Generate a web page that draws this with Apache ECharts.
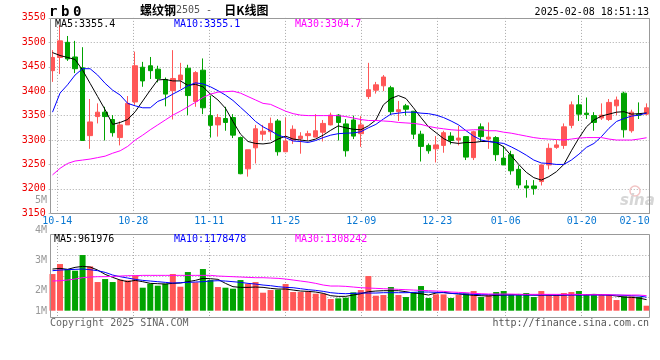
<!DOCTYPE html>
<html><head><meta charset="utf-8">
<script src="https://cdn.jsdelivr.net/npm/echarts/dist/echarts.min.js"></script>
<style>html,body{margin:0;padding:0;background:#fff}#c{width:660px;height:360px}</style>
</head><body><div id="c"></div>
<script>
// ---- data ----
const dates = ['10-11',
 '10-14','10-15','10-16','10-17','10-18','10-21','10-22','10-23','10-24','10-25',
 '10-28','10-29','10-30','10-31','11-01','11-04','11-05','11-06','11-07','11-08',
 '11-11','11-12','11-13','11-14','11-15','11-18','11-19','11-20','11-21','11-22',
 '11-25','11-26','11-27','11-28','11-29','12-02','12-03','12-04','12-05','12-06',
 '12-09','12-10','12-11','12-12','12-13','12-16','12-17','12-18','12-19','12-20',
 '12-23','12-24','12-25','12-26','12-27','12-30','12-31','01-02','01-03',
 '01-06','01-07','01-08','01-09','01-10','01-13','01-14','01-15','01-16','01-17',
 '01-20','01-21','01-22','01-23','01-24','01-27','02-05','02-06','02-07','02-10'];
const opens = [3442,3469,3500,3470,3448,3309,3348,3357,3342,3305,
 3331,3378,3449,3452,3445,3424,3401,3423,3447,3379,
 3443,3350,3331,3344,3346,3305,3241,3284,3312,3317,
 3339,3276,3300,3303,3309,3306,3316,3331,3351,3333,
 3341,3313,3389,3402,3411,3407,3358,3370,3359,3312,
 3289,3282,3289,3308,3300,3307,3264,3327,3302,3305,
 3263,3270,3240,3206,3206,3215,3249,3285,3289,3330,
 3372,3355,3350,3345,3342,3370,3396,3319,3353,3353];
const closes = [3469,3503,3466,3446,3299,3337,3357,3348,3315,3331,
 3375,3452,3421,3442,3426,3394,3426,3433,3391,3438,
 3366,3330,3346,3336,3310,3231,3280,3323,3318,3334,
 3276,3298,3322,3308,3313,3319,3334,3351,3336,3278,
 3308,3331,3403,3413,3429,3358,3362,3363,3312,3287,
 3278,3290,3315,3299,3304,3265,3317,3307,3306,3270,
 3249,3237,3208,3202,3201,3249,3283,3290,3327,3372,
 3353,3352,3336,3351,3377,3382,3321,3357,3351,3366];
const lows = [3419,3435,3462,3437,3299,3282,3334,3299,3307,3289,
 3331,3372,3409,3425,3418,3369,3342,3405,3351,3368,
 3353,3305,3307,3319,3304,3230,3225,3252,3299,3300,
 3268,3276,3292,3272,3300,3306,3297,3330,3299,3266,
 3302,3286,3384,3395,3400,3351,3339,3350,3302,3256,
 3272,3254,3274,3291,3289,3259,3259,3298,3282,3257,
 3249,3229,3201,3182,3188,3207,3240,3282,3282,3324,
 3339,3343,3319,3341,3339,3351,3305,3315,3343,3351];
const highs = [3484,3535,3513,3503,3490,3384,3375,3368,3351,3338,
 3390,3481,3460,3470,3452,3428,3484,3458,3454,3441,
 3467,3391,3353,3368,3353,3307,3280,3331,3331,3346,
 3343,3346,3330,3316,3319,3353,3341,3356,3353,3343,
 3350,3349,3458,3419,3433,3411,3380,3374,3359,3319,
 3293,3308,3319,3316,3329,3307,3319,3334,3336,3308,
 3288,3278,3248,3218,3218,3249,3293,3300,3334,3379,
 3392,3387,3357,3375,3384,3389,3399,3362,3377,3375];
const ma5 = [3479,3473,3469,3465,3443,3416,3389,3362,3332,3336,
 3342,3358,3380,3402,3423,3424,3421,3421,3412,3414,
 3409,3394,3382,3365,3338,3312,3297,3293,3292,3294,
 3302,3308,3302,3300,3298,3302,3310,3320,3329,3325,
 3322,3321,3329,3341,3372,3385,3391,3385,3366,3346,
 3327,3315,3303,3295,3293,3295,3295,3297,3297,3295,
 3286,3268,3250,3234,3223,3218,3225,3235,3250,3278,
 3304,3327,3341,3349,3353,3357,3358,3353,3354,3355.4];
const ma10 = [3357,3396,3413,3433,3446,3446,3433,3416,3402,3392,
 3375,3370,3366,3366,3379,3385,3394,3402,3411,3417,
 3415,3409,3401,3392,3381,3367,3353,3338,3327,3319,
 3310,3305,3298,3297,3295,3299,3305,3310,3313,3314,
 3314.5,3317,3325,3332,3343,3353,3355,3357,3357,3355,
 3354,3351,3346,3339,3331,3319,3308,3300,3297,3295,
 3293,3286,3278,3269,3259,3253,3252,3250,3250,3259,
 3271,3285,3293,3307,3324,3338,3344,3349,3351,3355.1];
const ma30 = [3228.6,3242,3252,3257,3259,3261,3264,3267,3273,3278,
 3287,3300,3310,3321,3331,3341,3351,3359,3368,3377,
 3387,3394,3398,3399,3400,3396,3389,3382,3375,3373,
 3366,3359,3354,3351,3350,3350,3350,3350,3350,3348,
 3345,3342,3340,3340,3339,3338,3336,3335,3334,3332,
 3328,3325,3323,3321,3320,3320,3321,3321,3319,3319,
 3316,3314,3311,3308,3305,3303,3302,3301,3300,3302,
 3304,3305,3305,3305,3302,3300,3300,3300,3302,3304.7];
const volumes = [3190000,4060000,3625000,3480000,4843000,3857000,2494000,2755000,2494000,2697000,
 2639000,3074000,2001000,2349000,2175000,2349000,3190000,2088000,3364000,2465000,
 3625000,2668000,2059000,2001000,1914000,2668000,2349000,2494000,1566000,1798000,
 1827000,2320000,1624000,1624000,1682000,1479000,1479000,1015000,1073000,1131000,
 1595000,1798000,3016000,1305000,1363000,2059000,1363000,1189000,1595000,2146000,
 1102000,1421000,1421000,1102000,1363000,1508000,1711000,1189000,1363000,1624000,
 1711000,1363000,1363000,1537000,1189000,1711000,1363000,1363000,1537000,1624000,
 1711000,1363000,1363000,1363000,1363000,928000,1247000,1247000,1189000,435000];
const volMa5 = [3625000,3683000,3596000,3770000,3857000,3799000,3538000,3161000,2900000,2668000,
 2523000,2639000,2523000,2378000,2349000,2320000,2378000,2407000,2523000,2639000,
 2813000,2784000,2726000,2378000,2088000,2030000,2030000,2059000,2030000,1943000,
 1885000,1885000,1798000,1711000,1682000,1624000,1508000,1305000,1247000,1247000,
 1363000,1479000,1653000,1711000,1740000,1740000,1740000,1653000,1537000,1479000,
 1363000,1537000,1595000,1508000,1450000,1392000,1334000,1305000,1276000,1334000,
 1363000,1392000,1421000,1392000,1363000,1363000,1363000,1334000,1363000,1392000,
 1392000,1392000,1421000,1392000,1363000,1276000,1189000,1160000,1102000,961976];
const volMa10 = [3480000,3538000,3567000,3596000,3625000,3567000,3480000,3335000,3103000,2958000,
 2842000,2726000,2639000,2581000,2523000,2465000,2407000,2436000,2465000,2494000,
 2523000,2581000,2610000,2581000,2523000,2465000,2378000,2320000,2233000,2175000,
 2088000,2030000,2001000,1914000,1827000,1769000,1682000,1566000,1508000,1479000,
 1508000,1537000,1537000,1537000,1566000,1566000,1566000,1566000,1595000,1624000,
 1624000,1595000,1566000,1508000,1479000,1450000,1421000,1392000,1392000,1392000,
 1363000,1363000,1363000,1363000,1363000,1363000,1363000,1363000,1363000,1363000,
 1363000,1363000,1363000,1363000,1363000,1363000,1334000,1305000,1276000,1178478];
const volMa30 = [2581000,2610000,2668000,2755000,2871000,2929000,2958000,2958000,2987000,3016000,
 3045000,3045000,3074000,3074000,3074000,3074000,3074000,3074000,3074000,3074000,
 3074000,3074000,3016000,2987000,2958000,2929000,2900000,2871000,2871000,2842000,
 2813000,2755000,2668000,2581000,2494000,2378000,2233000,2146000,2146000,2117000,
 2059000,2001000,1972000,1943000,1914000,1885000,1856000,1827000,1798000,1769000,
 1740000,1711000,1682000,1624000,1595000,1566000,1508000,1479000,1450000,1450000,
 1450000,1450000,1421000,1421000,1421000,1421000,1421000,1421000,1421000,1421000,
 1421000,1392000,1392000,1392000,1392000,1363000,1363000,1363000,1363000,1308242];
const tickDates = ['10-14','10-28','11-11','11-25','12-09','12-23','01-06','01-20','02-10'];
const volumeLabels = ['5M','4M','3M','2M','1M'];

// ---- styles ----
const RED = '#ff5757', GREEN = '#00a300';
const MONO = '"DejaVu Sans Mono", "Liberation Mono", monospace';
const DOT = {type: [1, 2], color: '#a8a8a8', width: 1};
const lastTick = tickDates[tickDates.length - 1];

const candles = dates.map((d, i) => [opens[i], closes[i], lows[i], highs[i]]);
const gridDates = dates.slice(1);

function line(name, data, color, xi, yi) {
  return {type: 'line', name, data, xAxisIndex: xi, yAxisIndex: yi, symbol: 'none',
    lineStyle: {color, width: 1}, itemStyle: {color}, z: 5, silent: true};
}

const chart = echarts.init(document.getElementById('c'), null, {renderer: 'canvas'});
const legendFont = '10px ' + MONO;
chart.setOption({
  animation: false,
  backgroundColor: '#ffffff',
  grid: [
    {left: 48.74, top: 17.9, width: 601.6, height: 195.4},
    {left: 57.3, top: 17.9, width: 592.8, height: 195.4},
    {left: 48.74, top: 234, width: 601.6, height: 83.7},
    {left: 57.3, top: 234, width: 592.8, height: 83.7}
  ],
  xAxis: [
    {type: 'category', gridIndex: 0, data: dates, boundaryGap: true, show: false},
    {type: 'category', gridIndex: 1, data: gridDates, boundaryGap: false,
      axisLine: {show: false}, axisTick: {show: false},
      axisLabel: {interval: (i, v) => tickDates.includes(v), color: '#0a78d2',
        fontFamily: MONO, fontSize: 10, margin: 3,
        formatter: v => v === lastTick ? '{e|' + v + '}' : v,
        rich: {e: {color: '#0a78d2', fontFamily: MONO, fontSize: 10, padding: [0, 31, 0, 0]}}},
      splitLine: {show: true, interval: (i, v) => tickDates.includes(v) && v !== lastTick, lineStyle: DOT}},
    {type: 'category', gridIndex: 2, data: dates, boundaryGap: true, show: false},
    {type: 'category', gridIndex: 3, data: gridDates, boundaryGap: false,
      axisLine: {show: false}, axisTick: {show: false}, axisLabel: {show: false},
      splitLine: {show: true, interval: (i, v) => tickDates.includes(v) && v !== lastTick, lineStyle: DOT}}
  ],
  yAxis: [
    {type: 'value', gridIndex: 0, min: 3150, max: 3550, interval: 50,
      axisLine: {show: false}, axisTick: {show: false},
      axisLabel: {color: '#ee0000', fontFamily: MONO, fontSize: 10, margin: 3, formatter: v => String(v)},
      splitLine: {show: true, lineStyle: DOT}},
    {type: 'value', gridIndex: 1, min: 0, max: 1, show: false, splitLine: {show: false}},
    {type: 'value', gridIndex: 2, min: -609000, max: 6673000, show: false, splitLine: {show: false}},
    {type: 'value', gridIndex: 3, min: 0, max: 4, interval: 1,
      axisLine: {show: false}, axisTick: {show: false}, axisLabel: {show: false},
      splitLine: {show: true, lineStyle: DOT}}
  ],
  series: [
    {type: 'candlestick', xAxisIndex: 0, yAxisIndex: 0, data: candles, barWidth: 5,
      itemStyle: {color: RED, color0: GREEN, borderColor: RED, borderColor0: GREEN, borderWidth: 1},
      z: 3},
    line('MA5', ma5, '#000000', 0, 0),
    line('MA10', ma10, '#0000ff', 0, 0),
    line('MA30', ma30, '#ff00ff', 0, 0),
    {type: 'bar', xAxisIndex: 2, yAxisIndex: 2, data: volumes, barWidth: 6,
      itemStyle: {color: p => closes[p.dataIndex] >= opens[p.dataIndex] ? RED : GREEN}, z: 3},
    line('VMA5', volMa5, '#000000', 2, 2),
    line('VMA10', volMa10, '#0000ff', 2, 2),
    line('VMA30', volMa30, '#ff00ff', 2, 2)
  ],
  graphic: [
    {type: 'rect', shape: {x: 50.5, y: 18.5, width: 599, height: 195}, style: {fill: null, stroke: '#999', lineWidth: 1}, z: 50},
    {type: 'rect', shape: {x: 50.5, y: 234.5, width: 599, height: 83}, style: {fill: null, stroke: '#999', lineWidth: 1}, z: 50},
    {type: 'text', x: 49, y: 12, z: 60, style: {text: '{c|r}{c|b}{c|0}', textVerticalAlign: 'middle',
      rich: {c: {width: 12, font: 'bold 14px "DejaVu Sans Mono", monospace', fill: '#000'}}}},
    {type: 'text', x: 140, y: 10, z: 60, style: {text: '{a|螺纹钢}{b|2505 -  }{a|日K线图}', textVerticalAlign: 'middle',
      rich: {a: {font: 'bold 12px "Noto Sans CJK SC"', fill: '#000'}, b: {font: '10px ' + MONO, fill: '#555'}}}},
    {type: 'text', x: 649, y: 12, z: 60, style: {text: '2025-02-08 18:51:13', font: legendFont, fill: '#000', textAlign: 'right', textVerticalAlign: 'middle'}},
    {type: 'text', x: 55, y: 24, z: 60, style: {text: 'MA5:3355.4', font: legendFont, fill: '#000', textVerticalAlign: 'middle'}},
    {type: 'text', x: 174, y: 24, z: 60, style: {text: 'MA10:3355.1', font: legendFont, fill: '#0000ff', textVerticalAlign: 'middle'}},
    {type: 'text', x: 295, y: 24, z: 60, style: {text: 'MA30:3304.7', font: legendFont, fill: '#ff00ff', textVerticalAlign: 'middle'}},
    {type: 'text', x: 54, y: 239, z: 60, style: {text: 'MA5:961976', font: legendFont, fill: '#000', textVerticalAlign: 'middle'}},
    {type: 'text', x: 174, y: 239, z: 60, style: {text: 'MA10:1178478', font: legendFont, fill: '#0000ff', textVerticalAlign: 'middle'}},
    {type: 'text', x: 295, y: 239, z: 60, style: {text: 'MA30:1308242', font: legendFont, fill: '#ff00ff', textVerticalAlign: 'middle'}},
    {type: 'text', x: 47, y: 200.8, z: 60, style: {text: volumeLabels[0], font: legendFont, fill: '#999', textAlign: 'right', textVerticalAlign: 'middle'}},
    {type: 'text', x: 47, y: 230.3, z: 60, style: {text: volumeLabels[1], font: legendFont, fill: '#999', textAlign: 'right', textVerticalAlign: 'middle'}},
    {type: 'text', x: 47, y: 260.7, z: 60, style: {text: volumeLabels[2], font: legendFont, fill: '#999', textAlign: 'right', textVerticalAlign: 'middle'}},
    {type: 'text', x: 47, y: 290.8, z: 60, style: {text: volumeLabels[3], font: legendFont, fill: '#999', textAlign: 'right', textVerticalAlign: 'middle'}},
    {type: 'text', x: 47, y: 311.3, z: 60, style: {text: volumeLabels[4], font: legendFont, fill: '#999', textAlign: 'right', textVerticalAlign: 'middle'}},
    {type: 'text', x: 50, y: 323, z: 60, style: {text: 'Copyright 2025 SINA.COM', font: legendFont, fill: '#666', textVerticalAlign: 'middle'}},
    {type: 'text', x: 649, y: 323, z: 60, style: {text: 'http://finance.sina.com.cn', font: legendFont, fill: '#555', textAlign: 'right', textVerticalAlign: 'middle'}},
    {type: 'circle', shape: {cx: 635, cy: 191, r: 5}, style: {fill: null, stroke: '#f2c4c4', lineWidth: 1.5}, z: 2},
    {type: 'text', x: 620, y: 201, z: 2, style: {text: 'sina', font: 'italic bold 15px "DejaVu Sans"', fill: '#d6d6d6', textVerticalAlign: 'middle'}}
  ]
});
</script>
</body></html>
